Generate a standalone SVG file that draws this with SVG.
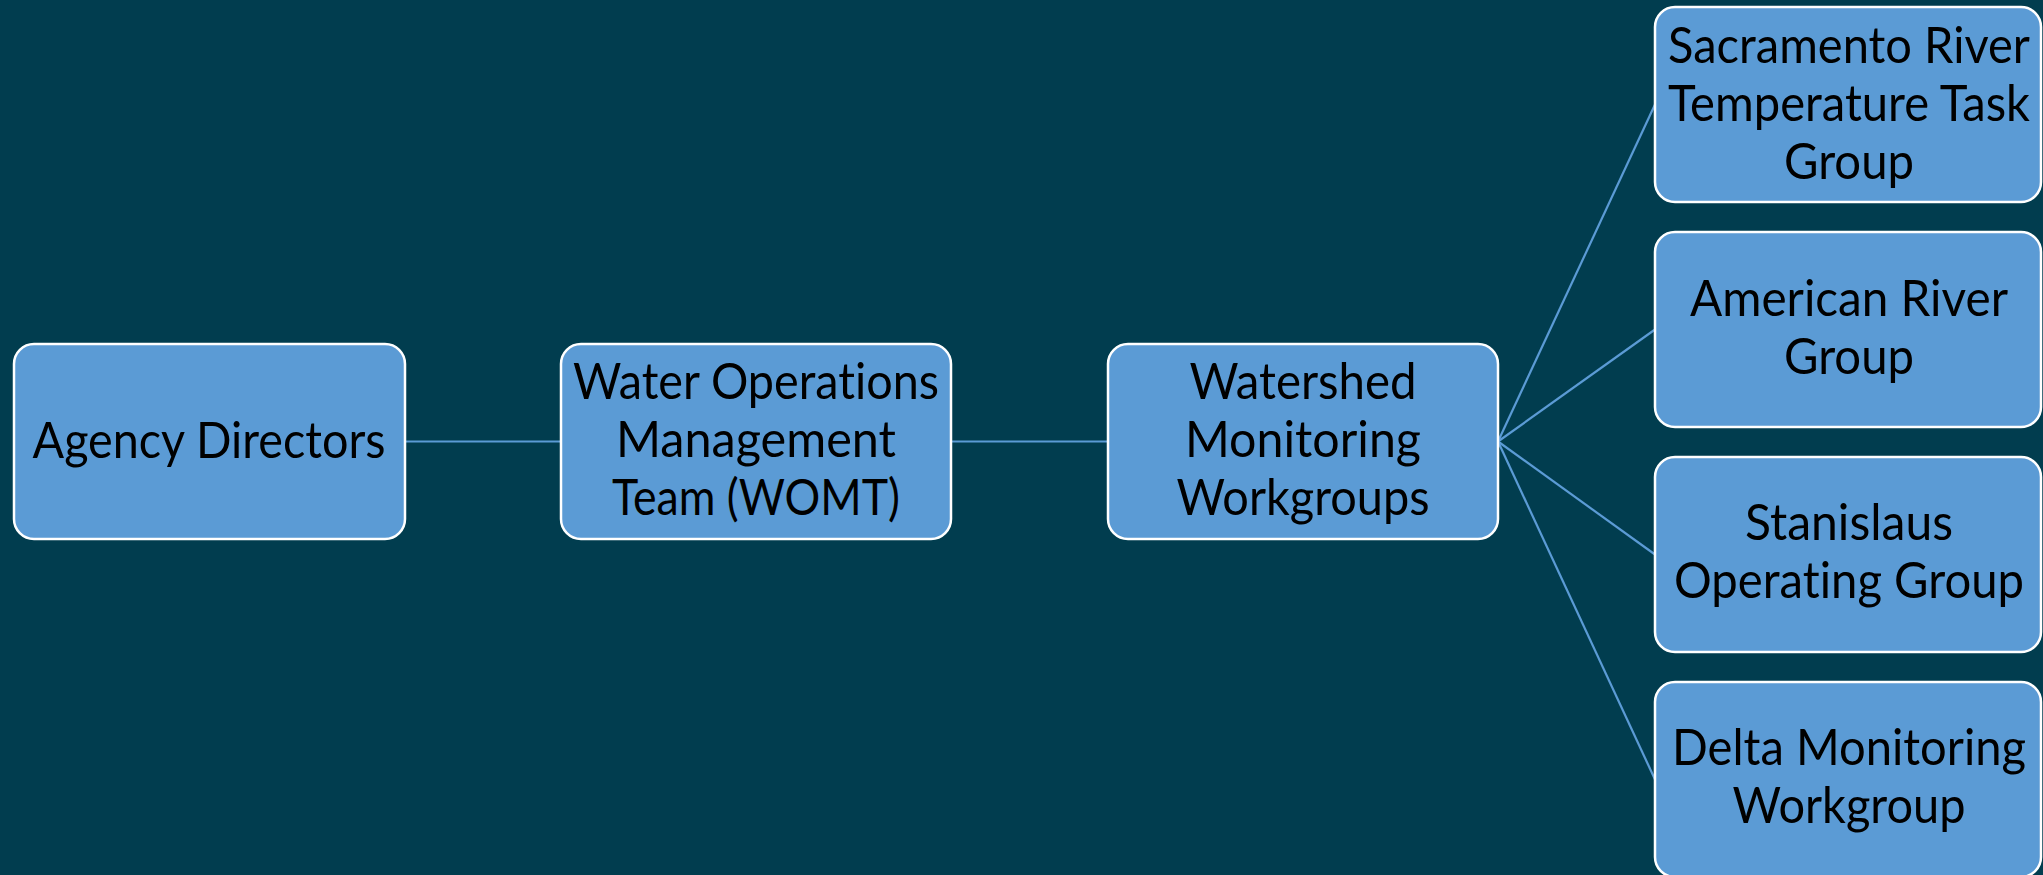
<svg xmlns="http://www.w3.org/2000/svg" width="2043" height="875" viewBox="0 0 2043 875">
  <style>
    .bg { fill: #013d4f; }
    .box { fill: #5b9bd5; stroke: #ffffff; stroke-width: 2.5; }
    .lbl { font-family: Lato, "Open Sans", "Liberation Sans", sans-serif; font-size: 51px; fill: #000000; text-anchor: middle; font-variant-ligatures: none; font-feature-settings: "liga" 0; }
    .link { stroke: #5b9bd5; stroke-width: 2.2; fill: none; }
  </style>
  <rect class="bg" x="0" y="0" width="2043" height="875"/>

  <!-- connectors -->
  <g id="connectors">
    <line class="link" x1="405" y1="441.5" x2="561" y2="441.5"/>
    <line class="link" x1="951" y1="441.5" x2="1108" y2="441.5"/>
    <line class="link" x1="1498" y1="441.5" x2="1655" y2="104.5"/>
    <line class="link" x1="1498" y1="441.5" x2="1655" y2="329.5"/>
    <line class="link" x1="1498" y1="441.5" x2="1655" y2="554.5"/>
    <line class="link" x1="1498" y1="441.5" x2="1655" y2="779.5"/>
  </g>

  <g id="agency-directors">
    <rect class="box" x="14" y="344" width="391" height="195" rx="20"/>
    <text class="lbl" x="209" y="458" textLength="353" lengthAdjust="spacingAndGlyphs">Agency Directors</text>
  </g>

  <g id="womt">
    <rect class="box" x="561" y="344" width="390" height="195" rx="20"/>
    <text class="lbl" x="756" y="399" textLength="366" lengthAdjust="spacingAndGlyphs">Water Operations</text>
    <text class="lbl" x="756" y="457" textLength="280" lengthAdjust="spacingAndGlyphs">Management</text>
    <text class="lbl" x="756" y="515" textLength="288" lengthAdjust="spacingAndGlyphs">Team (WOMT)</text>
  </g>

  <g id="watershed-workgroups">
    <rect class="box" x="1108" y="344" width="390" height="195" rx="20"/>
    <text class="lbl" x="1303" y="399" textLength="227" lengthAdjust="spacingAndGlyphs">Watershed</text>
    <text class="lbl" x="1303" y="457" textLength="236" lengthAdjust="spacingAndGlyphs">Monitoring</text>
    <text class="lbl" x="1303" y="515" textLength="253" lengthAdjust="spacingAndGlyphs">Workgroups</text>
  </g>

  <g id="sacramento-river">
    <rect class="box" x="1655" y="7" width="386" height="195" rx="20"/>
    <text class="lbl" x="1849" y="63" textLength="362" lengthAdjust="spacingAndGlyphs">Sacramento River</text>
    <text class="lbl" x="1849" y="121" textLength="362" lengthAdjust="spacingAndGlyphs">Temperature Task</text>
    <text class="lbl" x="1849" y="179" textLength="130" lengthAdjust="spacingAndGlyphs">Group</text>
  </g>

  <g id="american-river">
    <rect class="box" x="1655" y="232" width="386" height="195" rx="20"/>
    <text class="lbl" x="1849" y="316" textLength="318" lengthAdjust="spacingAndGlyphs">American River</text>
    <text class="lbl" x="1849" y="374" textLength="130" lengthAdjust="spacingAndGlyphs">Group</text>
  </g>

  <g id="stanislaus">
    <rect class="box" x="1655" y="457" width="386" height="195" rx="20"/>
    <text class="lbl" x="1849" y="540" textLength="208" lengthAdjust="spacingAndGlyphs">Stanislaus</text>
    <text class="lbl" x="1849" y="598" textLength="350" lengthAdjust="spacingAndGlyphs">Operating Group</text>
  </g>

  <g id="delta-monitoring">
    <rect class="box" x="1655" y="682" width="386" height="195" rx="20"/>
    <text class="lbl" x="1849" y="765" textLength="354" lengthAdjust="spacingAndGlyphs">Delta Monitoring</text>
    <text class="lbl" x="1849" y="823" textLength="233" lengthAdjust="spacingAndGlyphs">Workgroup</text>
  </g>
</svg>
